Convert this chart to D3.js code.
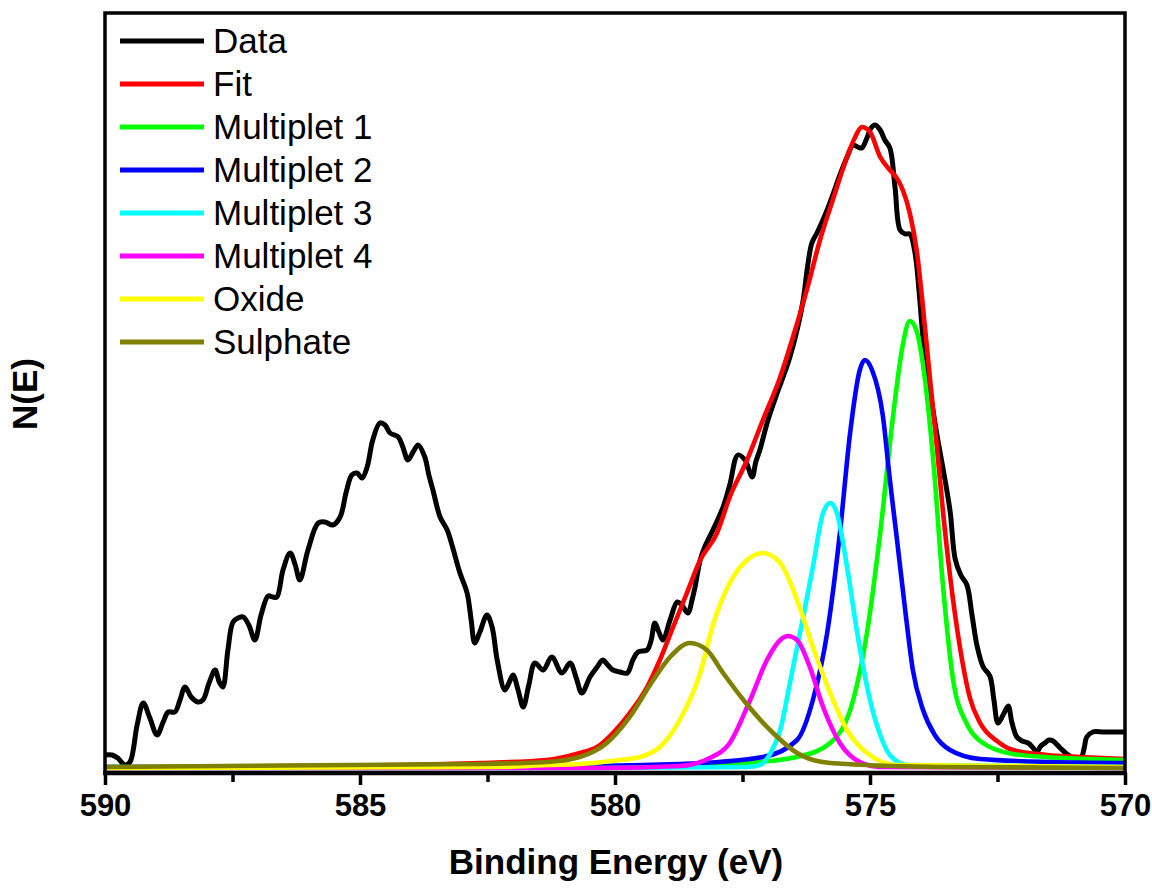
<!DOCTYPE html>
<html>
<head>
<meta charset="utf-8">
<script src="https://cdn.jsdelivr.net/npm/d3@7"></script>
<style>
  html, body { margin: 0; padding: 0; background: #fff; }
  svg { display: block; font-family: "Liberation Sans", Arial, sans-serif; }
</style>
</head>
<body>
<svg id="chart" width="1152" height="888"></svg>
<script>
// ---- Data (binding energy in eV, intensity in arbitrary units) ----
const xTickValues = [590, 585, 580, 575, 570];
const xMinorTickValues = [587.5, 582.5, 577.5, 572.5];
const legendLabels = ["Data", "Fit", "Multiplet 1", "Multiplet 2", "Multiplet 3", "Multiplet 4", "Oxide", "Sulphate"];
const seriesColors = ["#000000", "#ff0000", "#00ff00", "#0000ff", "#00ffff", "#ff00ff", "#ffff00", "#808000"];

const dataSeries = [
  [590.00,18],[589.86,18],[589.75,15],[589.61,8],[589.51,11],[589.37,48],[589.25,70],[589.12,55],[588.98,38],
  [588.86,51],[588.76,61],[588.63,61],[588.53,73],[588.43,86],[588.31,76],[588.18,71],[588.08,73],[587.96,90],
  [587.84,103],[587.76,91],[587.69,86],[587.59,123],[587.49,151],[587.39,155],[587.29,156],[587.18,148],[587.06,133],
  [586.94,158],[586.80,177],[586.71,176],[586.63,176],[586.51,203],[586.37,220],[586.27,208],[586.18,193],[586.02,223],
  [585.82,250],[585.69,251],[585.53,248],[585.39,256],[585.27,281],[585.16,298],[585.06,300],[584.96,295],[584.86,306],
  [584.75,333],[584.61,350],[584.51,348],[584.41,340],[584.25,336],[584.16,326],[584.06,313],[583.96,321],[583.86,328],
  [583.73,316],[583.65,298],[583.57,283],[583.43,256],[583.29,243],[583.18,225],[583.04,200],[582.90,180],[582.82,153],
  [582.75,130],[582.65,141],[582.51,158],[582.41,146],[582.31,113],[582.16,83],[582.08,90],[582.00,98],[581.90,83],
  [581.80,66],[581.69,88],[581.57,110],[581.41,103],[581.24,116],[581.04,100],[580.88,110],[580.76,95],[580.65,80],
  [580.49,96],[580.35,106],[580.24,113],[580.14,108],[580.04,103],[579.90,101],[579.76,100],[579.65,113],[579.55,121],
  [579.37,123],[579.29,133],[579.22,150],[579.14,141],[579.06,133],[578.92,153],[578.78,171],[578.69,168],[578.57,160],
  [578.49,173],[578.43,186],[578.33,213],[578.24,226],[578.08,243],[577.88,266],[577.75,288],[577.59,318],[577.45,313],
  [577.31,296],[577.24,311],[577.16,323],[577.00,353],[576.82,380],[576.69,398],[576.57,416],[576.43,443],[576.31,473],
  [576.22,508],[576.14,530],[576.04,540],[575.94,551],[575.84,563],[575.73,578],[575.59,598],[575.45,616],[575.33,628],
  [575.24,626],[575.16,625],[575.06,635],[574.98,645],[574.90,648],[574.80,643],[574.71,633],[574.61,625],[574.51,586],
  [574.41,543],[574.31,539],[574.22,539],[574.12,521],[574.04,483],[573.96,435],[573.86,395],[573.76,361],[573.67,333],
  [573.57,305],[573.43,262],[573.33,214],[573.22,198],[573.10,188],[573.00,158],[572.90,127],[572.78,106],[572.65,97],
  [572.57,73],[572.49,50],[572.39,58],[572.29,67],[572.22,51],[572.12,36],[572.02,32],[571.90,30],[571.80,25],
  [571.73,21],[571.65,27],[571.57,30],[571.49,33],[571.41,32],[571.27,25],[571.14,19],[571.00,15],[570.88,13],
  [570.80,25],[570.75,36],[570.63,41],[570.43,41],[570.24,41],[570.00,41]
];

const fitSeries = [
  [590.00,5],[588.14,6],[586.18,7],[584.22,8],[582.65,10],[581.33,13],[580.69,20],[580.35,26],[580.04,40],
  [579.71,60],[579.37,86],[579.12,113],[578.86,146],[578.59,180],[578.33,213],[578.00,240],[577.75,276],[577.41,313],
  [577.10,353],[576.76,396],[576.51,436],[576.24,483],[575.98,533],[575.73,573],[575.45,616],[575.29,636],[575.16,646],
  [575.00,641],[574.80,616],[574.61,603],[574.45,593],[574.35,582],[574.22,560],[574.08,521],[573.96,465],[573.82,392],
  [573.69,327],[573.57,262],[573.43,197],[573.24,127],[573.04,75],[572.84,50],[572.51,32],[572.20,23],[571.53,18],
  [570.88,16],[570.00,14]
];

const multiplet1 = [
  [590.00,6],[582.25,6],[578.33,7],[577.41,10],[576.43,16],[575.78,30],[575.33,73],[575.06,140],[574.80,240],
  [574.55,356],[574.35,430],[574.22,452],[574.08,441],[573.96,408],[573.76,313],[573.57,188],[573.37,93],[573.10,49],
  [572.84,32],[572.20,19],[571.22,15],[570.00,13]
];

const multiplet2 = [
  [590.00,6],[582.25,6],[578.73,9],[577.10,16],[576.43,33],[576.12,73],[575.84,140],[575.59,240],[575.39,340],
  [575.20,403],[575.10,413],[574.96,403],[574.75,358],[574.61,293],[574.47,233],[574.31,163],[574.16,103],[573.96,63],
  [573.73,38],[573.43,23],[572.84,14],[571.47,11],[570.00,10]
];

const multiplet3 = [
  [590.00,5],[580.29,5],[577.41,6],[577.16,8],[576.90,25],[576.76,43],[576.57,90],[576.31,156],[576.12,206],
  [575.92,260],[575.78,270],[575.65,260],[575.45,206],[575.25,140],[575.00,73],[574.80,38],[574.61,18],[574.27,8],
  [570.00,6]
];

const multiplet4 = [
  [590.00,5],[580.29,5],[578.73,7],[578.14,15],[577.75,30],[577.35,73],[577.02,113],[576.76,133],[576.61,137],
  [576.43,133],[576.18,106],[575.92,66],[575.59,30],[575.20,11],[574.80,6],[570.00,5]
];

const oxide = [
  [590.00,5],[582.25,6],[581.33,8],[580.69,9],[579.90,13],[579.51,16],[579.12,26],[578.73,53],[578.33,100],
  [578.08,148],[577.75,190],[577.41,213],[577.10,220],[576.76,210],[576.43,173],[576.12,126],[575.78,80],[575.45,43],
  [575.06,20],[574.47,8],[570.00,6]
];

const sulphate = [
  [590.00,6],[582.65,9],[581.33,11],[580.69,16],[580.16,30],[579.71,56],[579.25,93],[578.92,116],[578.53,130],
  [578.20,123],[577.88,100],[577.45,71],[576.90,40],[576.43,20],[575.78,10],[573.63,6],[570.00,5]
];

// ---- Chart ----
(function () {
const svg = d3.select("#chart");
const pL = 105, pR = 1125, pT = 13, pB = 773;

const x = d3.scaleLinear().domain([590, 570]).range([pL, pR]);
const y = d3.scaleLinear().domain([0, 760]).range([pB, pT]);

svg.append("defs").append("clipPath").attr("id", "plotClip")
  .append("rect").attr("x", pL).attr("y", pT).attr("width", pR - pL).attr("height", pB - pT);

const allSeries = [dataSeries, fitSeries, multiplet1, multiplet2, multiplet3, multiplet4, oxide, sulphate];

const lineSmooth = d3.line().x(d => x(d[0])).y(d => y(d[1])).curve(d3.curveMonotoneX);
const lineData = d3.line().x(d => x(d[0])).y(d => y(d[1])).curve(d3.curveCatmullRom.alpha(0.5));

const plot = svg.append("g").attr("clip-path", "url(#plotClip)");
allSeries.forEach((s, i) => {
  plot.append("path")
    .datum(s)
    .attr("d", i === 0 ? lineData : lineSmooth)
    .attr("fill", "none")
    .attr("stroke", seriesColors[i])
    .attr("stroke-width", i === 0 ? 5 : 4.6)
    .attr("stroke-linejoin", "round")
    .attr("stroke-linecap", "round");
});

// Frame
svg.append("rect")
  .attr("x", pL).attr("y", pT)
  .attr("width", pR - pL).attr("height", pB - pT)
  .attr("fill", "none").attr("stroke", "#000").attr("stroke-width", 3.5);
svg.append("line").attr("x1", pL - 1.75).attr("x2", pR + 1.75).attr("y1", pB).attr("y2", pB)
  .attr("stroke", "#000").attr("stroke-width", 4.5);

// X axis major ticks
const xAxis = d3.axisBottom(x).tickValues(xTickValues).tickSize(12).tickPadding(9).tickFormat(d3.format("d"));
const gx = svg.append("g").attr("transform", `translate(0,${pB})`).call(xAxis);
gx.select(".domain").remove();
gx.selectAll(".tick line").attr("stroke", "#000").attr("stroke-width", 3.5);
gx.selectAll(".tick text")
  .attr("fill", "#000")
  .style("font-family", "'Liberation Sans', Arial, sans-serif")
  .style("font-size", "31px")
  .style("font-weight", "bold");

// Minor ticks
const xMinor = d3.axisBottom(x).tickValues(xMinorTickValues).tickSize(9).tickFormat("");
const gm = svg.append("g").attr("transform", `translate(0,${pB})`).call(xMinor);
gm.select(".domain").remove();
gm.selectAll(".tick line").attr("stroke", "#000").attr("stroke-width", 3.5);

// Axis titles
svg.append("text")
  .attr("x", (pL + pR) / 2 + 1).attr("y", 874)
  .attr("text-anchor", "middle")
  .style("font-size", "35px").style("font-weight", "bold")
  .text("Binding Energy (eV)");

svg.append("text")
  .attr("transform", "translate(37,394) rotate(-90)")
  .attr("text-anchor", "middle")
  .style("font-size", "35px").style("font-weight", "bold")
  .text("N(E)");

// Legend
const legend = svg.append("g");
legendLabels.forEach((lab, i) => {
  const ly = 41 + i * 43;
  legend.append("line")
    .attr("x1", 120).attr("x2", 204).attr("y1", ly).attr("y2", ly)
    .attr("stroke", seriesColors[i]).attr("stroke-width", 5);
  legend.append("text")
    .attr("x", 213).attr("y", ly + 12)
    .style("font-size", "35px")
    .attr("fill", "#000")
    .text(lab);
});
})();
</script>
</body>
</html>
